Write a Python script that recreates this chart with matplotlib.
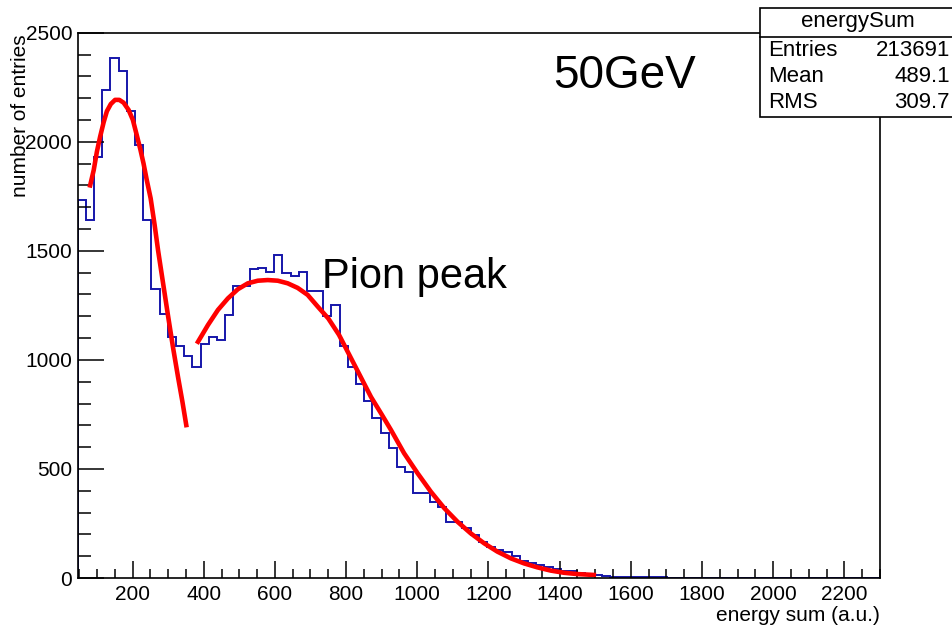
#!/usr/bin/env python3

import numpy as np
import matplotlib

matplotlib.use("Agg")
import matplotlib.pyplot as plt
from matplotlib.patches import Rectangle
from matplotlib.ticker import MultipleLocator

plt.rcParams["font.family"] = ["Liberation Sans", "DejaVu Sans"]

# histogram: bins of width 23 starting at 46
bin_start = 46
bin_width = 23
counts = [
    1733, 1640, 1930, 2237, 2383, 2325, 2141, 1985, 1641, 1324,
    1210, 1107, 1065, 1018, 969, 1073, 1107, 1091, 1204, 1340,
    1341, 1415, 1423, 1405, 1481, 1397, 1385, 1405, 1315, 1315,
    1201, 1252, 1062, 969, 889, 813, 732, 666, 595, 507,
    487, 391, 391, 350, 327, 258, 258, 228, 197, 164,
    143, 128, 121, 100, 80, 67, 58, 50, 40, 33,
    30, 25, 18, 12, 10, 6, 5, 4, 4, 3,
    3, 3, 2, 0, 2, 0, 2, 0, 0, 2,
    0, 0, 0, 0, 0, 0, 0, 0, 0, 0,
    0, 0, 0, 0, 0, 0, 0, 0,
]

# first fit (low peak)
fit1_x = [81, 91, 100, 109, 119, 128, 139, 151, 163, 175, 189, 201, 212,
          222, 231, 240, 251, 262, 272, 286, 300, 314, 328, 340, 351]
fit1_y = [1800, 1870, 1955, 2023, 2090, 2140, 2173, 2192, 2192, 2179, 2146,
          2100, 2030, 1965, 1900, 1825, 1740, 1620, 1500, 1350, 1200, 1055,
          920, 810, 701]

# second fit (pion peak)
fit2_x = [384, 412, 440, 468, 496, 524, 552, 580, 608, 636, 664, 692, 720,
          750, 780, 810, 840, 870, 900, 926, 963, 1001, 1038, 1076, 1113,
          1150, 1188, 1225, 1263, 1300, 1337, 1375, 1412, 1450, 1496]
fit2_y = [1083, 1160, 1229, 1282, 1324, 1351, 1363, 1366, 1363, 1351, 1330,
          1298, 1245, 1190, 1115, 1020, 925, 830, 750, 679, 572, 480, 396,
          320, 258, 205, 159, 121, 90, 67, 49, 34, 24, 18, 14]

stats_rows = [("Entries", "213691"), ("Mean", "489.1"), ("RMS", "309.7")]


def main() -> None:
    W, H = 953, 627
    fig = plt.figure(figsize=(W / 100, H / 100), dpi=100)
    ax = fig.add_axes([77.7 / W, 1 - 578 / H, (880 - 77.7) / W, (578 - 32.7) / H])

    edges = bin_start + bin_width * np.arange(len(counts) + 1)
    ax.stairs(counts, edges, color="#1616aa", linewidth=1.4, zorder=1)
    ax.plot(fit1_x, fit1_y, color="#ff0000", linewidth=3.3, zorder=3)
    ax.plot(fit2_x, fit2_y, color="#ff0000", linewidth=3.3, zorder=3)

    ax.set_xlim(edges[0], edges[-1])
    ax.set_ylim(0, 2500)

    ax.xaxis.set_major_locator(MultipleLocator(200))
    ax.xaxis.set_minor_locator(MultipleLocator(50))
    ax.yaxis.set_major_locator(MultipleLocator(500))
    ax.yaxis.set_minor_locator(MultipleLocator(100))
    ax.tick_params(axis="x", which="major", direction="in", length=12, width=1.1,
                   labelsize=15, pad=5)
    ax.tick_params(axis="x", which="minor", direction="in", length=6.7, width=1.1)
    ax.tick_params(axis="y", which="major", direction="in", length=18.7, width=1.1,
                   labelsize=15, pad=4)
    ax.tick_params(axis="y", which="minor", direction="in", length=9.4, width=1.1)
    for sp in ax.spines.values():
        sp.set_linewidth(1.2)
        sp.set_zorder(4)

    ax.text(1.0, -(615 - 578) / 545, "energy sum (a.u.)", transform=ax.transAxes,
            ha="right", va="center", fontsize=15)
    fig.text(21 / W, 1 - 34 / H, "number of entries", rotation=90,
             ha="center", va="top", fontsize=15)

    ax.text((322 - 77.7) / 802.3, (578 - 288) / 545, "Pion peak",
            transform=ax.transAxes, fontsize=30, va="baseline", ha="left")
    ax.text((553 - 77.7) / 802.3, (578 - 88) / 545, "50GeV",
            transform=ax.transAxes, fontsize=33, va="baseline", ha="left")

    # stats box in the top right corner
    bx0, by0, bx1, by1 = 760, 8, 962, 117
    fig.patches.append(Rectangle((bx0 / W, 1 - by1 / H), (bx1 - bx0) / W,
                                 (by1 - by0) / H, transform=fig.transFigure,
                                 facecolor="white", edgecolor="black",
                                 linewidth=1.2, zorder=5))
    fig.add_artist(plt.Line2D([bx0 / W, bx1 / W], [1 - 37 / H, 1 - 37 / H],
                              transform=fig.transFigure, color="black",
                              linewidth=1.2, zorder=6))
    fig.text(858 / W, 1 - 22 / H, "energySum", ha="center", va="center",
             fontsize=16, zorder=7)
    row_y = [50, 77, 103]
    for (name, val), y in zip(stats_rows, row_y):
        fig.text(768 / W, 1 - y / H, name, ha="left", va="center",
                 fontsize=16, zorder=7)
        fig.text(950 / W, 1 - y / H, val, ha="right", va="center",
                 fontsize=16, zorder=7)

    fig.savefig("out.png", dpi=100)


if __name__ == "__main__":
    main()
